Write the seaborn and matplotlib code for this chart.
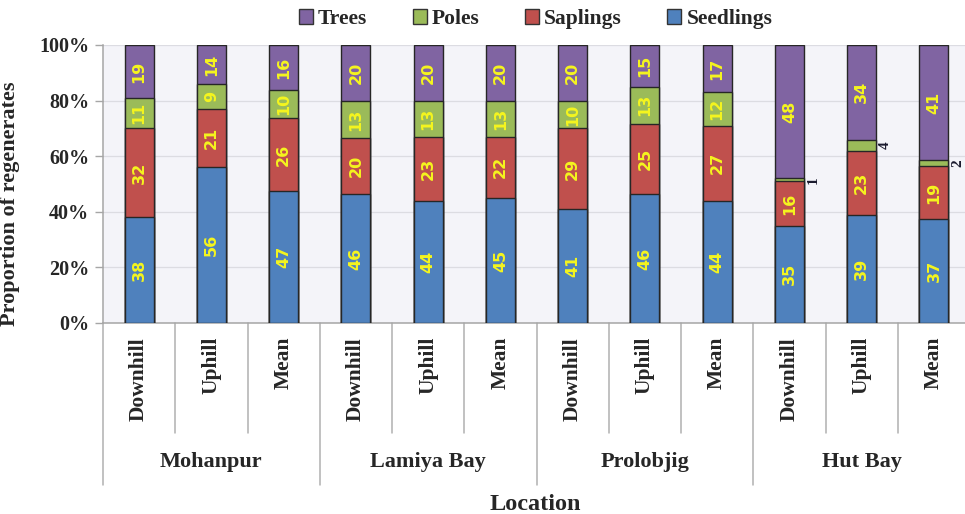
import numpy as np
import pandas as pd
import matplotlib
matplotlib.use("Agg")
import matplotlib.pyplot as plt
import seaborn as sns
from matplotlib.patches import Patch
from matplotlib.transforms import blended_transform_factory

# Regeneration classes (% of regenerates) per site and slope position
sites = ["Mohanpur", "Lamiya Bay", "Prolobjig", "Hut Bay"]
positions = ["Downhill", "Uphill", "Mean"]
seedlings = [38, 56, 47, 46, 44, 45, 41, 46, 44, 35, 39, 37]
saplings = [32, 21, 26, 20, 23, 22, 29, 25, 27, 16, 23, 19]
poles = [11, 9, 10, 13, 13, 13, 10, 13, 12, 1, 4, 2]
trees = [19, 14, 16, 20, 20, 20, 20, 15, 17, 48, 34, 41]
y_ticks = [0, 20, 40, 60, 80, 100]

series_names = ["Seedlings", "Saplings", "Poles", "Trees"]
series_vals = [seedlings, saplings, poles, trees]
colors = {"Seedlings": "#4F81BD", "Saplings": "#C0504D",
          "Poles": "#9BBB59", "Trees": "#8064A2"}

cats = [f"{s} | {p}" for s in sites for p in positions]
df = pd.DataFrame({"cat": cats})
for name, vals in zip(series_names, series_vals):
    df[name] = vals
total = df[series_names].sum(axis=1)
# 100 % stacking: shares of each bar's total
for name in series_names:
    df[name + "_pct"] = df[name] / total * 100
cum = df[[n + "_pct" for n in series_names]].cumsum(axis=1)
for name in series_names:
    df[name + "_top"] = cum[name + "_pct"]

sns.set_style("white")
plt.rcParams["font.family"] = ["Liberation Serif", "DejaVu Serif"]

fig = plt.figure(figsize=(9.65, 5.14), dpi=100)
ax = fig.add_axes([103 / 965, 1 - 323 / 514, 867 / 965, 278 / 514])
ax.set_facecolor("#F4F4F9")

# overlay cumulative bars from the top class down to build the stack
for name in reversed(series_names):
    sns.barplot(data=df, x="cat", y=name + "_top", order=cats,
                color=colors[name], saturation=1, width=0.4,
                edgecolor="#262626", linewidth=1.0, ax=ax, zorder=3)

# value labels
for i in range(len(cats)):
    for name in series_names:
        val = df.loc[i, name]
        top = df.loc[i, name + "_top"]
        mid = top - df.loc[i, name + "_pct"] / 2
        if val >= 5:
            ax.text(i, mid, f"{val}", rotation=90, ha="center", va="center",
                    color="#F5F51E", fontsize=11.5, fontweight="bold",
                    family="DejaVu Sans", zorder=5)
        else:
            ax.text(i + 0.33, mid, f"{val}", rotation=90, ha="center",
                    va="center", color="#1A1A2E", fontsize=11,
                    fontweight="bold", zorder=5, clip_on=False)

ax.set_xlim(-0.5, len(cats) - 0.5)
ax.set_ylim(0, 100)
ax.set_yticks(y_ticks)
ax.set_yticklabels([f"{v}%" for v in y_ticks], fontsize=14.5, fontweight="bold")
ax.yaxis.grid(True, color="#DCDCE2", linewidth=0.9)
ax.set_axisbelow(True)
ax.tick_params(axis="y", left=True, length=6, color="#A6A6A6", width=1, pad=4)

ax.set_xticks(range(len(cats)))
ax.set_xticklabels([c.split(" | ")[1] for c in cats], rotation=90,
                   fontsize=15.5, fontweight="bold")
ax.tick_params(axis="x", length=0, pad=10)

for side in ["top", "right"]:
    ax.spines[side].set_visible(False)
for side in ["left", "bottom"]:
    ax.spines[side].set_color("#A6A6A6")
    ax.spines[side].set_linewidth(1.1)

ax.set_xlabel("")
ax.set_ylabel("Proportion of regenerates", fontsize=16, fontweight="bold")
ax.yaxis.set_label_coords(-0.096, 0.43)

# two-level category axis: separators and site names
trans = blended_transform_factory(ax.transData, ax.transAxes)
n_pos = len(positions)
for k in range(len(cats) + 1):
    depth = -0.583 if k % n_pos == 0 else -0.396
    ax.plot([k - 0.5, k - 0.5], [0, depth], color="#B0B0B0", lw=1.1,
            transform=trans, clip_on=False)
ftrans = blended_transform_factory(ax.transData, fig.transFigure)
for g, site in enumerate(sites):
    ax.text(g * n_pos + (n_pos - 1) / 2, 1 - 462 / 514, site, transform=ftrans,
            ha="center", va="center", fontsize=16, fontweight="bold")

fig.text(0.555, 1 - 504 / 514, "Location", ha="center", va="center",
         fontsize=17.5, fontweight="bold")

handles = [Patch(facecolor=colors[n], edgecolor="#333333", linewidth=1)
           for n in reversed(series_names)]
fig.legend(handles, list(reversed(series_names)), loc="center",
           bbox_to_anchor=(0.555, 1 - 19 / 514), ncol=4, frameon=False,
           handlelength=0.65, handleheight=0.65, handletextpad=0.25,
           columnspacing=2.1, prop={"weight": "bold", "size": 15.5})

fig.savefig("out.png", dpi=100)
